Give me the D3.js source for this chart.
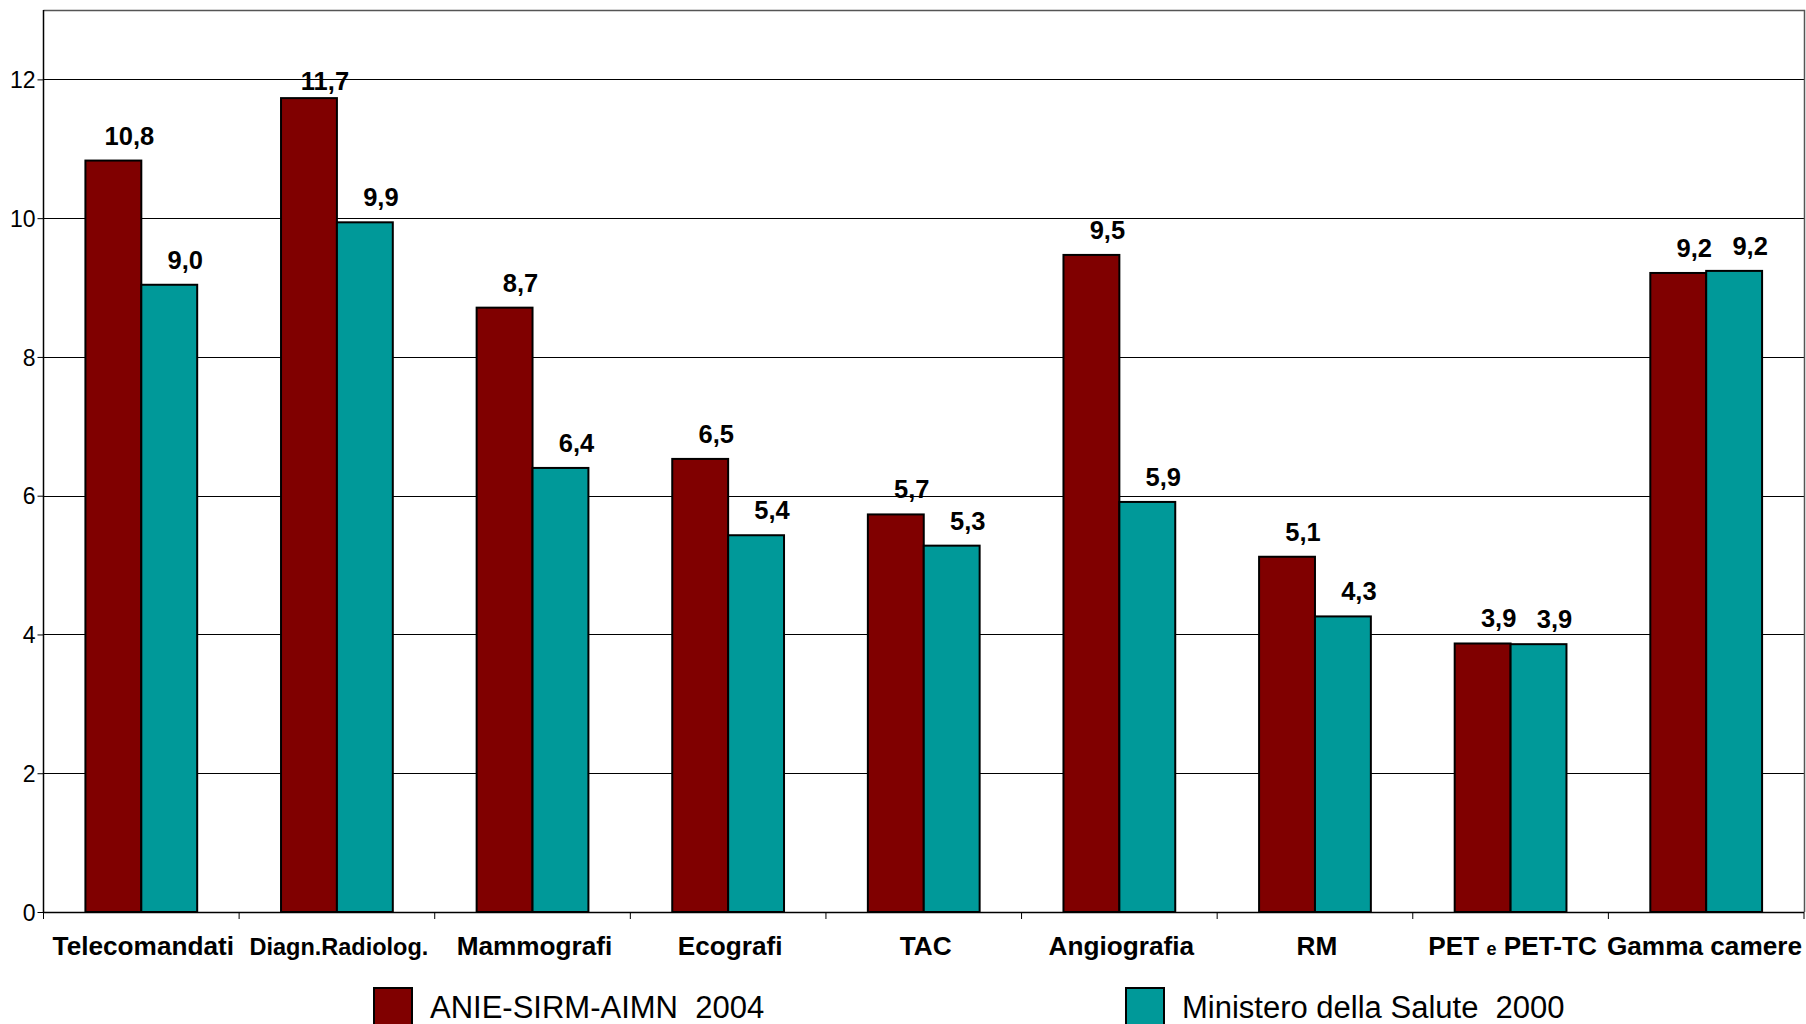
<!DOCTYPE html>
<html>
<head>
<meta charset="utf-8">
<script src="https://cdn.jsdelivr.net/npm/d3@7"></script>
<style>
  html, body { margin: 0; padding: 0; background: #fff; }
  svg { display: block; }
  text { font-family: "Liberation Sans", Arial, sans-serif; }
</style>
</head>
<body>
<svg id="chart" width="1806" height="1024"></svg>
<script>
// ---- Data ----
const categories = ["Telecomandati", "Diagn.Radiolog.", "Mammografi", "Ecografi", "TAC",
                    "Angiografia", "RM", "PET e PET-TC", "Gamma camere"];
const seriesNames = ["ANIE-SIRM-AIMN  2004", "Ministero della Salute  2000"];
const anie2004 = [10.83, 11.73, 8.71, 6.53, 5.73, 9.47, 5.12, 3.87, 9.21];
const ministero2000 = [9.04, 9.94, 6.40, 5.43, 5.28, 5.91, 4.26, 3.86, 9.24];
const yTicks = [0, 2, 4, 6, 8, 10, 12];
const colors = ["#800000", "#009999"];

// ---- Layout ----
const svg = d3.select("#chart");
const pLeft = 43.5, pRight = 1804, pTop = 10, pBottom = 912;

const x = d3.scaleBand().domain(categories).range([pLeft, pRight]).padding(0);
const x1 = d3.scaleBand().domain([0, 1]).range([0, x.bandwidth()])
  .paddingInner(0).paddingOuter(0.75);
const y = d3.scaleLinear().domain([0, 13]).range([pBottom, pTop]);

const fmt = v => d3.format(".1f")(v).replace(".", ",");

// gridlines
svg.append("g").selectAll("line").data(yTicks.filter(t => t > 0)).join("line")
  .attr("x1", pLeft).attr("x2", pRight)
  .attr("y1", d => Math.round(y(d)) + 0.5).attr("y2", d => Math.round(y(d)) + 0.5)
  .attr("stroke", "#000").attr("stroke-width", 1);

// plot frame (top & right)
svg.append("path")
  .attr("d", `M${pLeft},${pTop + 0.5}H${pRight + 0.5}V${pBottom}`)
  .attr("fill", "none").attr("stroke", "#555").attr("stroke-width", 1.5);

// y axis
const yAxis = d3.axisLeft(y).tickValues(yTicks).tickSize(6).tickFormat(d3.format("d"));
const gy = svg.append("g").attr("transform", `translate(${pLeft},0)`).call(yAxis);
gy.select(".domain").attr("stroke", "#000").attr("stroke-width", 1.5)
  .attr("d", `M0,${pTop}V${pBottom}`);
gy.selectAll(".tick line").attr("stroke", "#000");
gy.selectAll(".tick text").attr("font-size", 23).attr("fill", "#000")
  .attr("font-family", "Liberation Sans, Arial, sans-serif").attr("x", -8).attr("dy", "0.36em");

// bars
const data = categories.map((c, i) => ({ cat: c, vals: [anie2004[i], ministero2000[i]] }));
const groups = svg.append("g").selectAll("g").data(data).join("g")
  .attr("transform", d => `translate(${x(d.cat)},0)`);

groups.selectAll("rect").data(d => d.vals.map((v, k) => ({ v, k }))).join("rect")
  .attr("x", d => x1(d.k))
  .attr("y", d => y(d.v))
  .attr("width", x1.bandwidth())
  .attr("height", d => y(0) - y(d.v))
  .attr("fill", d => colors[d.k])
  .attr("stroke", "#000").attr("stroke-width", 2);

groups.selectAll("text.val").data(d => d.vals.map((v, k) => ({ v, k }))).join("text")
  .attr("class", "val")
  .attr("x", d => x1(d.k) + x1.bandwidth() / 2 + 16)
  .attr("y", d => Math.max(y(d.v) - 16, y(12) + 11))
  .attr("text-anchor", "middle")
  .attr("font-size", 25.5).attr("font-weight", "bold").attr("fill", "#000")
  .text(d => fmt(d.v));

// x axis
const xAxis = d3.axisBottom(x).tickSize(0).tickFormat("");
const gx = svg.append("g").attr("transform", `translate(0,${pBottom})`).call(xAxis);
gx.select(".domain").attr("stroke", "#000").attr("stroke-width", 1.5)
  .attr("d", `M${pLeft},0.5H${pRight}`);
gx.selectAll(".tick").remove();
// separator ticks between categories
svg.append("g").selectAll("line").data(categories).join("line")
  .attr("x1", d => x(d) + x.bandwidth()).attr("x2", d => x(d) + x.bandwidth())
  .attr("y1", pBottom).attr("y2", pBottom + 7)
  .attr("stroke", "#000").attr("stroke-width", 1);
svg.append("line").attr("x1", pLeft).attr("x2", pLeft).attr("y1", pBottom).attr("y2", pBottom + 7)
  .attr("stroke", "#000");

// category labels
const catLabels = svg.append("g").selectAll("text").data(categories).join("text")
  .attr("x", d => x(d) + x.bandwidth() / 2 + 2)
  .attr("y", 955)
  .attr("text-anchor", "middle")
  .attr("font-weight", "bold").attr("fill", "#000")
  .attr("font-size", d => d === "Diagn.Radiolog." ? 23.5 : 26.2);
catLabels.each(function (d) {
  const t = d3.select(this);
  if (d.includes(" e ")) {
    const parts = d.split(" e ");
    t.append("tspan").text(parts[0] + " ");
    t.append("tspan").attr("font-size", 18).text("e");
    t.append("tspan").text(" " + parts[1]);
  } else {
    t.text(d);
  }
  // keep inside the picture
  const bb = this.getBBox();
  const overflow = bb.x + bb.width - (1806 - 4);
  if (overflow > 0) t.attr("x", +t.attr("x") - overflow);
});

// legend
const legendX = [374, 1126];
const lg = svg.append("g").selectAll("g").data(seriesNames).join("g")
  .attr("transform", (d, i) => `translate(${legendX[i]},988)`);
lg.append("rect").attr("width", 38).attr("height", 40)
  .attr("fill", (d, i) => colors[i]).attr("stroke", "#000").attr("stroke-width", 2);
lg.append("text").attr("x", 56).attr("y", 30)
  .attr("font-size", 31).attr("fill", "#000")
  .style("white-space", "pre")
  .text(d => d);
</script>
</body>
</html>
